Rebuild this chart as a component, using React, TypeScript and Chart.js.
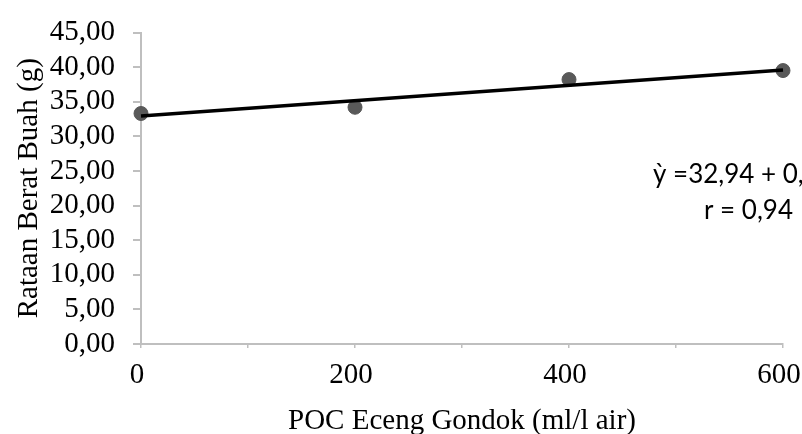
import React, { useEffect, useRef } from 'react';
import { Chart, registerables } from 'chart.js';

Chart.register(...registerables);

const xValues = [0, 200, 400, 600];
const beratBuah = [33.3, 34.2, 38.2, 39.5];
const trendX = [0, 600];
const trendY = [32.94, 39.6];
const xTickLabels = ['0', '200', '400', '600'];
const equationLines = ['ỳ =32,94 + 0,011x', 'r = 0,94'];

const GREY = '#bfbfbf';
const SERIF = '"Liberation Serif", "Times New Roman", serif';

const annotationPlugin = {
  id: 'equationText',
  afterDraw(chart: any) {
    const { ctx, chartArea } = chart;
    ctx.save();
    ctx.fillStyle = '#000';
    ctx.font = '26px Lato, "Open Sans", sans-serif';
    ctx.textBaseline = 'alphabetic';
    ctx.textAlign = 'left';
    ctx.fillText(equationLines[0], chartArea.right - 130, chartArea.top + 150);
    ctx.textAlign = 'right';
    ctx.fillText(equationLines[1], chartArea.right + 10, chartArea.top + 186);
    ctx.restore();
  },
};

export default function App() {
  const ref = useRef<HTMLCanvasElement>(null);
  useEffect(() => {
    if (!ref.current) return;
    const chart = new Chart(ref.current, {
      type: 'scatter',
      data: {
        datasets: [
          {
            type: 'line',
            label: 'Trend',
            data: trendX.map((x, i) => ({ x, y: trendY[i] })),
            borderColor: '#000',
            borderWidth: 3.5,
            pointRadius: 0,
            fill: false,
            order: 0,
            clip: false,
          },
          {
            label: 'Rataan Berat Buah',
            data: xValues.map((x, i) => ({ x, y: beratBuah[i] })),
            backgroundColor: '#595959',
            borderColor: '#595959',
            pointRadius: 7,
            pointHoverRadius: 7,
            order: 1,
            clip: false,
          },
        ],
      },
      options: {
        responsive: false,
        animation: false,
        layout: { padding: { top: 24, right: 19, bottom: 0, left: 0 } },
        plugins: { legend: { display: false }, tooltip: { enabled: false } },
        scales: {
          x: {
            type: 'linear',
            min: 0,
            max: 600,
            afterFit(scale: any) {
              scale.height = 90;
              scale.paddingRight = 0;
              scale.paddingLeft = 0;
            },
            ticks: {
              stepSize: 100,
              color: '#000',
              font: { family: SERIF, size: 29 },
              padding: 10,
              labelOffset: -4,
              maxRotation: 0,
              autoSkip: false,
              callback: (v: any) => {
                const i = xValues.indexOf(Number(v));
                return i >= 0 ? xTickLabels[i] : '';
              },
            },
            grid: { drawOnChartArea: false, color: GREY, tickLength: 4, lineWidth: 1.5 },
            border: { color: GREY, width: 2 },
            title: {
              display: true,
              text: 'POC Eceng Gondok (ml/l air)',
              color: '#000',
              font: { family: SERIF, size: 29, lineHeight: 1 },
              padding: { top: 0, bottom: -2 },
            },
          },
          y: {
            min: 0,
            max: 45,
            afterFit(scale: any) { scale.width = 141; },
            ticks: {
              stepSize: 5,
              autoSkip: false,
              color: '#000',
              font: { family: SERIF, size: 29, lineHeight: 1 },
              padding: 18,
              callback: (v: any) => Number(v).toFixed(2).replace('.', ','),
            },
            grid: { drawOnChartArea: false, color: GREY, tickLength: 8, lineWidth: 2 },
            border: { color: GREY, width: 2 },
            title: {
              display: true,
              text: 'Rataan Berat Buah (g)',
              color: '#000',
              font: { family: SERIF, size: 29, lineHeight: 1.2 },
              padding: { top: 12, bottom: 0 },
            },
          },
        },
      },
      plugins: [annotationPlugin],
    });
    return () => chart.destroy();
  }, []);
  return (
    <div style={{ position: 'absolute', left: 0, top: 0, width: 802, height: 434, background: '#fff' }}>
      <canvas ref={ref} width={802} height={434} />
    </div>
  );
}
